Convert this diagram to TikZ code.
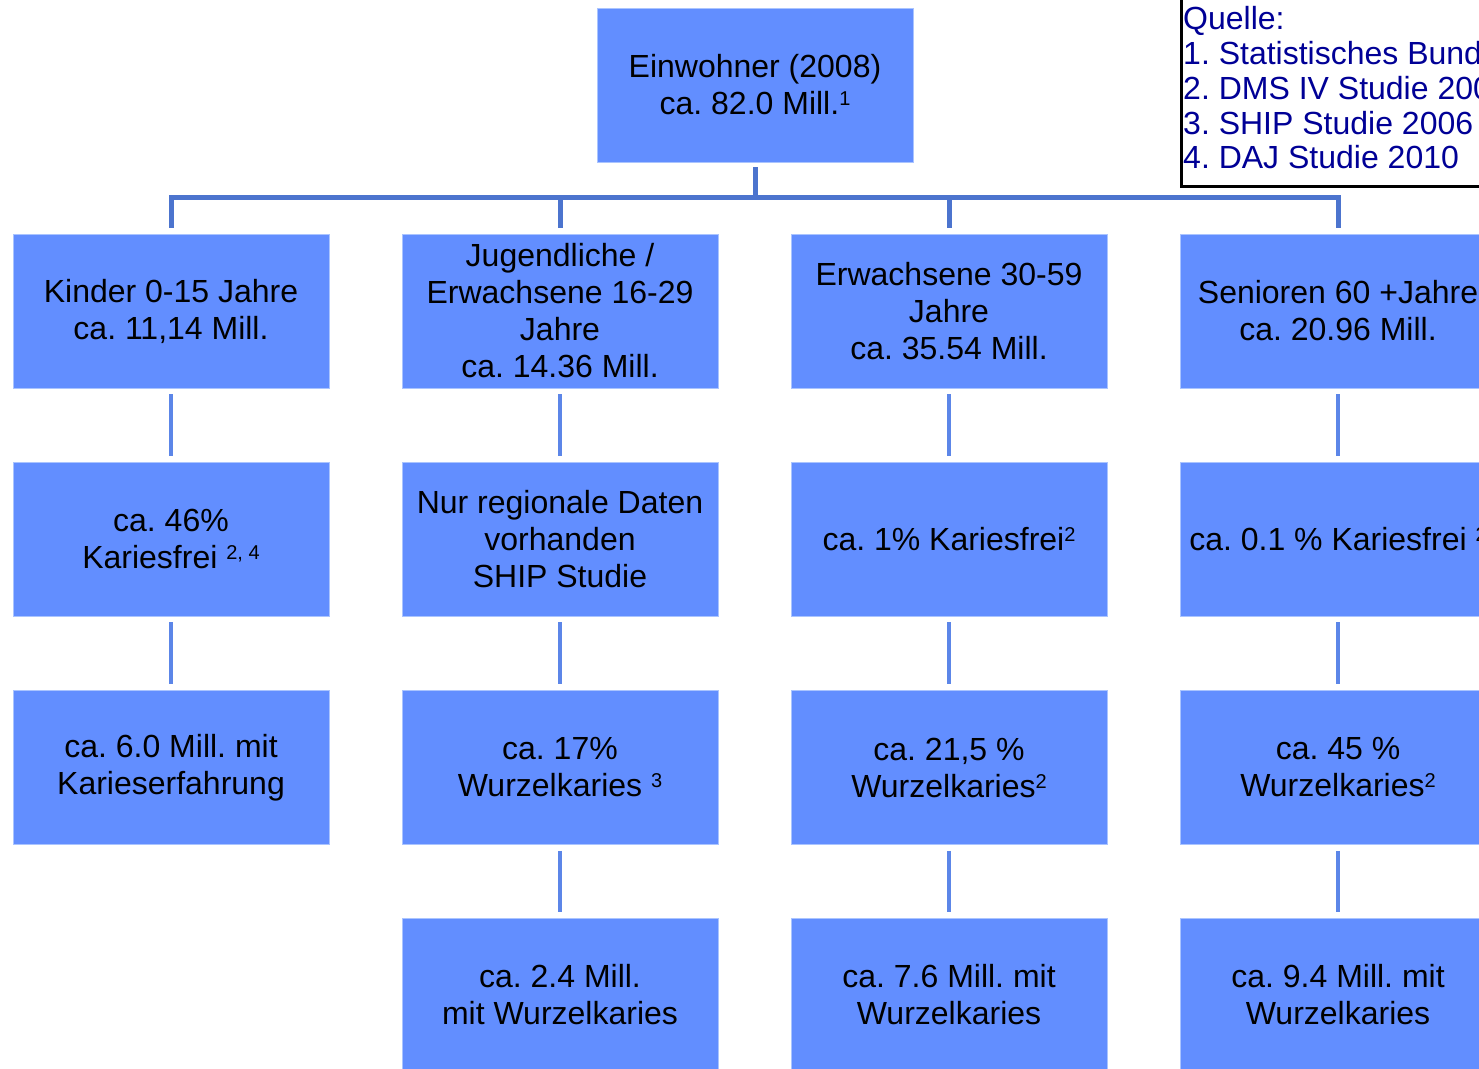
\documentclass[tikz,border=0pt]{standalone}
\usepackage{fontspec}
\setmainfont{Liberation Sans}
\frenchspacing
\definecolor{boxblue}{RGB}{98,142,255}
\definecolor{boxedge}{RGB}{170,196,255}
\definecolor{busblue}{RGB}{76,116,206}
\definecolor{linkblue}{RGB}{92,134,232}
\definecolor{srcblue}{RGB}{0,0,150}
\newcommand{\hoch}[1]{\raisebox{9pt}{\fontsize{20}{20}\selectfont #1}}
\begin{document}
\begin{tikzpicture}[x=1pt,y=-1pt,
  box/.style={fill=boxblue,draw=boxedge,line width=0.8pt,minimum width=316pt,
    minimum height=154pt,inner sep=0pt,align=center,font=\fontsize{32}{37}\selectfont},
  bus/.style={busblue,line width=5pt},
  link/.style={linkblue,line width=4.5pt,shorten <=6pt,shorten >=6pt}]
\useasboundingbox (0,0) rectangle (1479,1068);
\clip (0,0) rectangle (1479,1068);
% top
\node[box] (top) at (755,85) {Einwohner (2008)\\ca. 82.0 Mill.\hoch{1}};
% Kinder
\node[box] (k1) at (171,311) {Kinder 0-15 Jahre\\ca. 11,14 Mill.};
\node[box] (k2) at (171,539) {ca. 46\%\\Kariesfrei \hoch{2, 4}};
\node[box] (k3) at (171,767.5) {ca. 6.0 Mill. mit\\Karieserfahrung};
% Jugendliche
\node[box] (j1) at (560,311) {Jugendliche /\\Erwachsene 16-29\\Jahre\\ca. 14.36 Mill.};
\node[box] (j2) at (560,539) {Nur regionale Daten\\vorhanden\\SHIP Studie};
\node[box] (j3) at (560,767.5) {ca. 17\%\\Wurzelkaries \hoch{3}};
\node[box] (j4) at (560,995) {ca. 2.4 Mill.\\mit Wurzelkaries};
% Erwachsene
\node[box] (e1) at (949,311) {Erwachsene 30-59\\Jahre\\ca. 35.54 Mill.};
\node[box] (e2) at (949,539) {ca. 1\% Kariesfrei\hoch{2}};
\node[box] (e3) at (949,767.5) {ca. 21,5 \%\\Wurzelkaries\hoch{2}};
\node[box] (e4) at (949,995) {ca. 7.6 Mill. mit\\Wurzelkaries};
% Senioren
\node[box] (s1) at (1338,311) {Senioren 60 +Jahre\\ca. 20.96 Mill.};
\node[box] (s2) at (1338,539) {ca. 0.1 \% Kariesfrei \hoch{2}};
\node[box] (s3) at (1338,767.5) {ca. 45 \%\\Wurzelkaries\hoch{2}};
\node[box] (s4) at (1338,995) {ca. 9.4 Mill. mit\\Wurzelkaries};
% bus
\coordinate (bus) at (755,197);
\draw[bus,shorten <=5pt] (top.south) -- (bus);
\draw[bus,shorten >=6pt] (bus) -| (k1.north);
\draw[bus,shorten >=6pt] (bus) -| (j1.north);
\draw[bus,shorten >=6pt] (bus) -| (e1.north);
\draw[bus,shorten >=6pt] (bus) -| (s1.north);
% links
\draw[link] (k1) -- (k2);
\draw[link] (k2) -- (k3);
\draw[link] (j1) -- (j2);
\draw[link] (j2) -- (j3);
\draw[link] (j3) -- (j4);
\draw[link] (e1) -- (e2);
\draw[link] (e2) -- (e3);
\draw[link] (e3) -- (e4);
\draw[link] (s1) -- (s2);
\draw[link] (s2) -- (s3);
\draw[link] (s3) -- (s4);
% sources
\node[draw=black,line width=3pt,fill=white,minimum width=320pt,minimum height=190pt,
  anchor=north west] (qbox) at (1180,-5) {};
\node[anchor=north west,inner sep=0pt,align=left,text=srcblue,
  font=\fontsize{32}{34.75}\selectfont] (quelle) at (1183,6.5)
  {Quelle:\\1. Statistisches Bundesamt\\2. DMS IV Studie 2006\\3. SHIP Studie 2006\\4. DAJ Studie 2010};
\end{tikzpicture}
\end{document}
